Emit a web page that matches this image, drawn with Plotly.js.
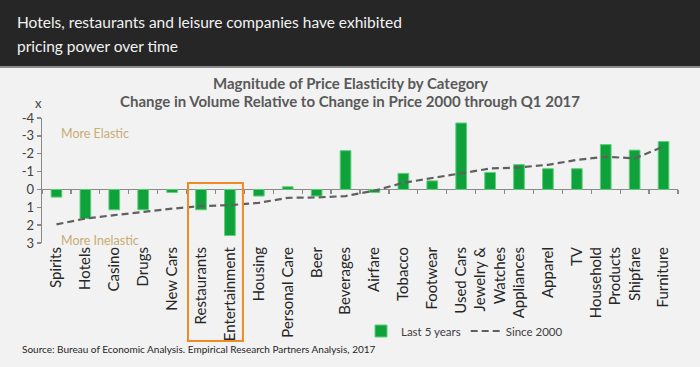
<!DOCTYPE html>
<html>
<head>
<meta charset="utf-8">
<script src="https://cdn.plot.ly/plotly-3.0.1.min.js"></script>
<style>
  html, body { margin: 0; padding: 0; background: #f2f2f2; }
  #chart { width: 700px; height: 367px; }
</style>
</head>
<body>
<div id="chart"></div>
<script>
// ---- Data ----
const categories = [
  "Spirits", "Hotels", "Casino", "Drugs", "New Cars", "Restaurants", "Entertainment",
  "Housing", "Personal Care", "Beer", "Beverages", "Airfare", "Tobacco", "Footwear",
  "Used Cars", "Jewelry &<br>Watches", "Appliances", "Apparel", "TV",
  "Household<br>Products", "Shipfare", "Furniture"
];
// Elasticity, last 5 years (negative = more elastic, plotted upward)
const last5Years = [
  0.43, 1.63, 1.14, 1.14, 0.17, 1.14, 2.58,
  0.37, -0.15, 0.37, -2.17, 0.17, -0.90, -0.48,
  -3.72, -0.95, -1.39, -1.16, -1.16,
  -2.51, -2.20, -2.68
];
// Elasticity since 2000
const since2000 = [
  1.96, 1.63, 1.44, 1.25, 1.08, 0.93, 0.88,
  0.75, 0.47, 0.45, 0.37, 0.07, -0.37, -0.64,
  -0.90, -1.17, -1.23, -1.38, -1.65,
  -1.83, -1.74, -2.40
];
const yTickVals = [-4, -3, -2, -1, 0, 1, 2, 3];
const yTickText = ["-4", "-3", "-2", "-1", "0", "1", "2", "3"];

const headline1 = "Hotels, restaurants and leisure companies have exhibited";
const headline2 = "pricing power over time";
const chartTitle1 = "Magnitude of Price Elasticity by Category";
const chartTitle2 = "Change in Volume Relative to Change in Price 2000 through Q1 2017";
const sourceText = "Source: Bureau of Economic Analysis. Empirical Research Partners Analysis, 2017";

// ---- Layout constants ----
const FONT = "Lato, 'Open Sans', sans-serif";
const W = 700, H = 367;
const M = { l: 42, r: 22, t: 118, b: 124 };
const plotW = W - M.l - M.r, plotH = H - M.t - M.b;
const px2x = (px) => (px - M.l) / plotW;           // page px -> paper x
const py2y = (py) => (H - M.b - py) / plotH;       // page px -> paper y
const yMin = -4, yMax = 3;
const zeroPos = (yMax - 0) / (yMax - yMin);        // paper y of value 0

const idx = categories.map((_, i) => i);
const boundaries = categories.map((_, i) => i - 0.5).concat([categories.length - 0.5]);

const traces = [
  {
    type: "bar",
    name: "Last 5 years",
    x: categories,
    y: last5Years,
    marker: { color: "#0fa23a", line: { color: "#5fcf7c", width: 1 } },
    width: 0.37,
    xaxis: "x", yaxis: "y",
    hoverinfo: "skip"
  },
  {
    type: "scatter",
    mode: "lines",
    name: "Since 2000",
    x: idx,
    y: since2000,
    line: { color: "#606060", width: 2.2, dash: "7px,4px" },
    xaxis: "x2", yaxis: "y",
    hoverinfo: "skip"
  }
];

const layout = {
  width: W, height: H,
  margin: M,
  paper_bgcolor: "#f2f2f2",
  plot_bgcolor: "#f2f2f2",
  font: { family: FONT, color: "#404040", size: 12 },
  showlegend: true,
  xaxis: {
    type: "category",
    range: [-0.5, categories.length - 0.5],
    showline: false, showgrid: false, zeroline: false,
    ticks: "",
    tickangle: -90,
    tickfont: { family: FONT, size: 15, color: "#262626" },
    ticklabelstandoff: 0,
    fixedrange: true
  },
  xaxis2: {
    overlaying: "x",
    anchor: "free",
    position: zeroPos,
    range: [-0.5, categories.length - 0.5],
    tickmode: "array",
    tickvals: boundaries,
    showticklabels: false,
    ticks: "outside", ticklen: 4, tickwidth: 1.3, tickcolor: "#8a8a8a",
    showline: false, showgrid: false, zeroline: false,
    fixedrange: true
  },
  yaxis: {
    range: [yMax, yMin],
    tickmode: "array",
    tickvals: yTickVals,
    ticktext: yTickText,
    showline: true, linecolor: "#8a8a8a", linewidth: 1.3,
    ticks: "outside", ticklen: 4, tickwidth: 1.3, tickcolor: "#8a8a8a",
    showgrid: false,
    zeroline: true, zerolinecolor: "#8a8a8a", zerolinewidth: 1.6,
    tickfont: { family: FONT, size: 13, color: "#404040" },
    fixedrange: true
  },
  bargap: 0.63,
  legend: {
    orientation: "h",
    x: px2x(361), xanchor: "left",
    y: py2y(331), yanchor: "middle",
    bgcolor: "rgba(0,0,0,0)",
    font: { family: FONT, size: 11.5, color: "#404040" },
    itemwidth: 30,
    traceorder: "normal"
  },
  shapes: [
    // dark header band
    { type: "rect", xref: "paper", yref: "paper",
      x0: px2x(0), x1: px2x(W), y0: py2y(66), y1: py2y(0),
      fillcolor: "#262626", line: { width: 0 }, layer: "below" },
    { type: "line", xref: "paper", yref: "paper",
      x0: px2x(0), x1: px2x(W), y0: py2y(67), y1: py2y(67),
      line: { color: "#6a6a6a", width: 1.5 }, layer: "below" },
    // highlight box around Restaurants & Entertainment
    { type: "rect", xref: "x", yref: "paper",
      x0: categories.indexOf("Restaurants") - 0.45,
      x1: categories.indexOf("Entertainment") + 0.45,
      y0: py2y(341), y1: py2y(183),
      line: { color: "#f08a24", width: 2 }, fillcolor: "rgba(0,0,0,0)" }
  ],
  annotations: [
    { text: headline1, xref: "paper", yref: "paper",
      x: px2x(15), y: py2y(22), xanchor: "left", yanchor: "middle", align: "left",
      showarrow: false,
      font: { family: FONT, size: 15.5, color: "#f2f2f2" } },
    { text: headline2, xref: "paper", yref: "paper",
      x: px2x(15), y: py2y(46), xanchor: "left", yanchor: "middle", align: "left",
      showarrow: false,
      font: { family: FONT, size: 15.5, color: "#f2f2f2" } },
    { text: chartTitle1, xref: "paper", yref: "paper",
      x: px2x(350), y: py2y(83), xanchor: "center", yanchor: "middle",
      showarrow: false,
      font: { family: FONT, size: 15, color: "#595959", weight: "bold" } },
    { text: chartTitle2, xref: "paper", yref: "paper",
      x: px2x(350), y: py2y(101), xanchor: "center", yanchor: "middle",
      showarrow: false,
      font: { family: FONT, size: 15, color: "#595959", weight: "bold" } },
    { text: "x", xref: "paper", yref: "paper",
      x: px2x(38), y: py2y(103), xanchor: "center", yanchor: "middle",
      showarrow: false, font: { family: FONT, size: 13, color: "#404040" } },
    { text: "More Elastic", xref: "paper", yref: "paper",
      x: px2x(59), y: py2y(133), xanchor: "left", yanchor: "middle",
      showarrow: false, font: { family: FONT, size: 12.5, color: "#c9ad74" } },
    { text: "More Inelastic", xref: "paper", yref: "paper",
      x: px2x(59), y: py2y(240), xanchor: "left", yanchor: "middle",
      showarrow: false, font: { family: FONT, size: 12.5, color: "#c9ad74" } },
    { text: sourceText, xref: "paper", yref: "paper",
      x: px2x(20), y: py2y(349), xanchor: "left", yanchor: "middle",
      showarrow: false, font: { family: FONT, size: 10, color: "#262626" } }
  ]
};

Plotly.newPlot("chart", traces, layout, { displayModeBar: false, staticPlot: true });
</script>
</body>
</html>
